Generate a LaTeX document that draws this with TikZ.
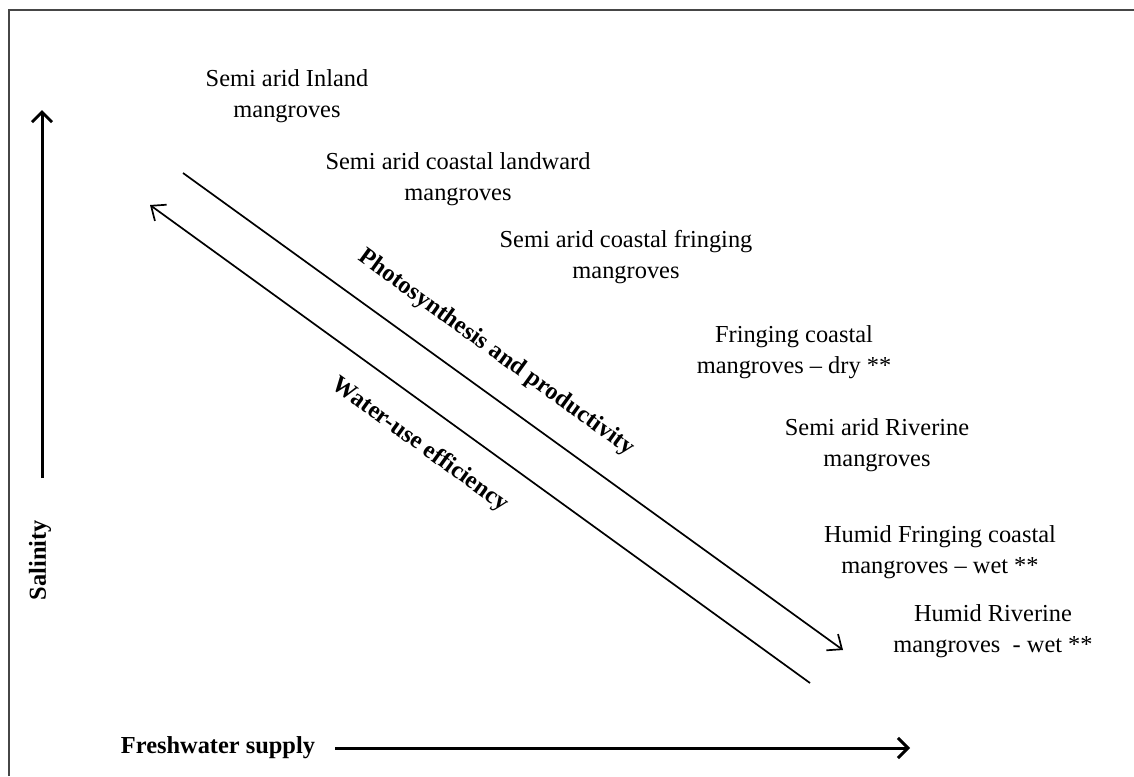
\documentclass[tikz,border=0pt]{standalone}
\usepackage{fontspec}
\setmainfont{Liberation Serif}
\usetikzlibrary{arrows.meta, positioning, calc}

\begin{document}
\begin{tikzpicture}[
    x=0.5pt, y=-0.5pt,
    every node/.style={font=\fontsize{12.2}{15.2}\selectfont},
    zone/.style={
        align=center, inner sep=0pt
    },
    axlab/.style={
        font=\fontsize{12.2}{15}\selectfont\bfseries, inner sep=0pt
    },
    trend/.style={
        font=\fontsize{12.2}{15}\selectfont\bfseries, inner sep=0pt,
        rotate=-35.9
    },
    axis/.style={
        -{Straight Barb[length=5pt,width=10pt]},
        line width=1.5pt
    },
    diag/.style={
        -{Straight Barb[length=6pt,width=10pt]},
        line width=0.85pt
    },
    frame/.style={
        draw={rgb,255:red,70;green,70;blue,70},
        line width=1pt
    }
]

\useasboundingbox (0,0) rectangle (1134,776);
\fill[white] (0,0) rectangle (1134,776);

%% ── Frame ───────────────────────────────────────────────────────────
\draw[frame] (9,776) -- (9,10) -- (1134,10);

%% ── Axes ────────────────────────────────────────────────────────────
\coordinate (sal0) at (42,478);
\coordinate (sal1) at (42,110);
\draw[axis] (sal0) -- (sal1);
\node[axlab, rotate=90] (sal) at (40,560) {Salinity};

\node[axlab] (fw) at (218,748) {Freshwater supply};
\coordinate (fw0) at (335,748);
\coordinate (fw1) at (910,748);
\draw[axis] (fw0) -- (fw1);

%% ── Trend arrows ────────────────────────────────────────────────────
\coordinate (ps0) at (183,173);
\coordinate (ps1) at (843,650);
\draw[diag] (ps0) -- (ps1);

\coordinate (wu0) at (810,683);
\coordinate (wu1) at (150,205);
\draw[diag] (wu0) -- (wu1);

\node[trend] (ps) at (496,353) {Photosynthesis and productivity};
\node[trend] (wu) at (420,445) {Water-use efficiency};

%% ── Mangrove types ──────────────────────────────────────────────────
\node[zone] (m1) at (287,96)  {Semi arid Inland\\mangroves};
\node[zone] (m2) at (458,179) {Semi arid coastal landward\\mangroves};
\node[zone] (m3) at (626,257) {Semi arid coastal fringing\\mangroves};
\node[zone] (m4) at (794,352) {Fringing coastal\\mangroves -- dry **};
\node[zone] (m5) at (877,445) {Semi arid Riverine\\mangroves};
\node[zone] (m6) at (940,552) {Humid Fringing coastal\\mangroves -- wet **};
\node[zone] (m7) at (993,631) {Humid Riverine\\mangroves\ \ - wet **};

\end{tikzpicture}
\end{document}
